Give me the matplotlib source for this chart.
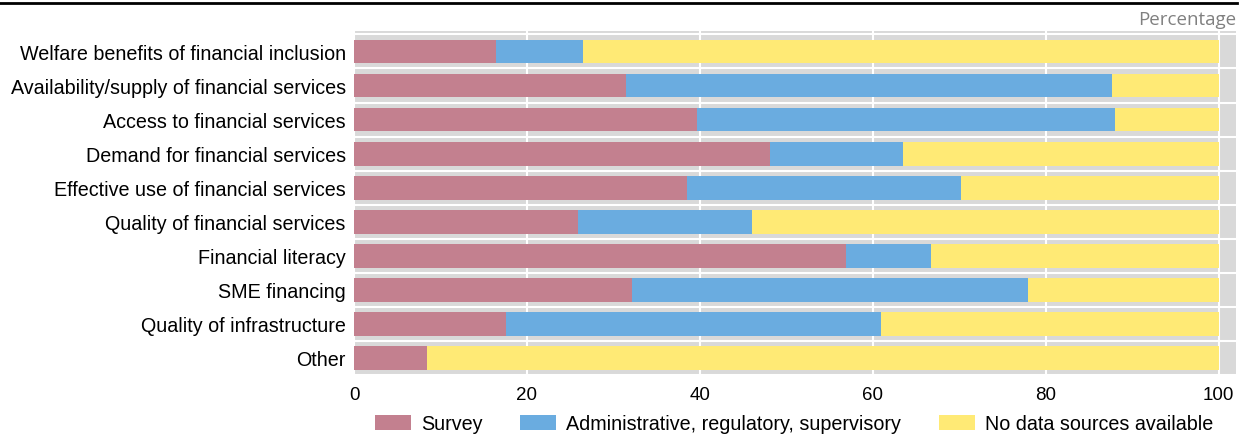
import numpy as np
import matplotlib.pyplot as plt
from matplotlib.patches import Patch
from matplotlib.lines import Line2D

categories = [
    "Welfare benefits of financial inclusion",
    "Availability/supply of financial services",
    "Access to financial services",
    "Demand for financial services",
    "Effective use of financial services",
    "Quality of financial services",
    "Financial literacy",
    "SME financing",
    "Quality of infrastructure",
    "Other",
]
survey = [16.4, 31.5, 39.7, 48.1, 38.5, 25.9, 56.9, 32.2, 17.6, 8.4]
admin = [10.1, 56.2, 48.3, 15.4, 31.7, 20.1, 9.8, 45.8, 43.3, 0.0]
no_data = [100 - s - a for s, a in zip(survey, admin)]

series_names = ["Survey", "Administrative, regulatory, supervisory", "No data sources available"]
colors = ["#c3808f", "#6aace0", "#ffea75"]

plt.rcParams['font.family'] = ['Liberation Sans', 'DejaVu Sans']

fig = plt.figure(figsize=(12.44, 4.39), dpi=100)
ax = fig.add_axes([354 / 1244, 1 - 376 / 439, (1236 - 354) / 1244, (376 - 32) / 439])
ax.set_facecolor("#d9d9d9")

y = np.arange(len(categories))
left = np.zeros(len(categories))
for vals, name, c in zip([survey, admin, no_data], series_names, colors):
    ax.barh(y, vals, left=left, height=0.7, color=c, label=name, zorder=3)
    left += np.array(vals)

ax.set_xlim(0, 102)
ax.set_ylim(9.5, -0.6)
ax.set_xticks([0, 20, 40, 60, 80, 100])
ax.set_yticks(y)
ax.set_yticklabels(categories, fontsize=14.2)
ax.set_yticks(np.arange(-0.5, len(categories), 1), minor=True)
ax.tick_params(axis='x', labelsize=13.5, length=0, pad=8)
ax.tick_params(axis='y', which='both', length=0, pad=6)
ax.grid(axis='x', color='white', linewidth=1.5, zorder=1)
ax.grid(axis='y', which='minor', color='white', linewidth=1.5, zorder=1)
for s in ax.spines.values():
    s.set_visible(False)

# top rule and unit label
fig.add_artist(Line2D([0, 1237 / 1244], [1 - 4 / 439, 1 - 4 / 439], color='black', linewidth=2))
fig.text(1236 / 1244, 1 - 20 / 439, "Percentage", ha='right', va='center',
         fontsize=13.5, color='#808080', family=['Open Sans', 'DejaVu Sans'])

handles = [Patch(facecolor=c) for c in colors]
fig.legend(handles, series_names, loc='center', ncol=3, frameon=False,
           bbox_to_anchor=(794 / 1244, 1 - 425 / 439), fontsize=14.2,
           handlelength=1.85, handleheight=0.8, columnspacing=1.9, handletextpad=0.5)

fig.savefig("out.png", dpi=100)
